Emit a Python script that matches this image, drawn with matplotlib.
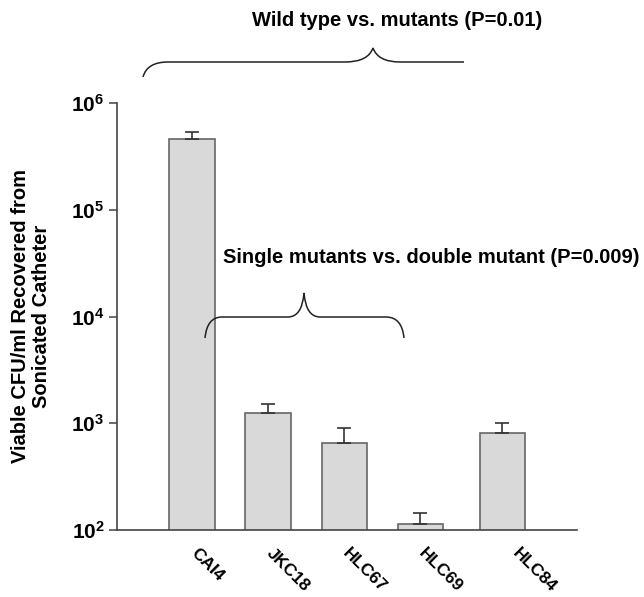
import numpy as np
import matplotlib
matplotlib.use("Agg")
import matplotlib.pyplot as plt
from matplotlib.path import Path
from matplotlib.patches import PathPatch

plt.rcParams['font.family'] = ['Liberation Sans', 'DejaVu Sans']
plt.rcParams['mathtext.fontset'] = 'custom'
plt.rcParams['mathtext.rm'] = 'Liberation Sans:bold'
plt.rcParams['mathtext.bf'] = 'Liberation Sans:bold'

# data
strains = ['CAI4', 'JKC18', 'HLC67', 'HLC69', 'HLC84']
cfu = [4.6e5, 1.26e3, 6.5e2, 1.13e2, 8.05e2]
cfu_err = [7.0e4, 240, 250, 31, 200]
decades = [2, 3, 4, 5, 6]

title_wt = 'Wild type vs. mutants (P=0.01)'
title_single = 'Single mutants vs. double mutant (P=0.009)'
ylab = 'Viable CFU/ml Recovered from\nSonicated Catheter'

W, H = 644, 597
fig = plt.figure(figsize=(W/100, H/100), dpi=100)
ax = fig.add_axes([117/W, 1-530/H, (577-117)/W, (530-103)/H])

x = np.arange(len(strains), dtype=float)
x[-1] += 0.08   # last bar sits a bit further right
lab_x = x + 0.08
lab_x[-1] += 0.15

ax.bar(x, cfu, width=0.6, color='#d9d9d9', edgecolor='#666666', linewidth=1.2,
       yerr=[np.zeros(len(cfu)), cfu_err], capsize=4.7,
       error_kw=dict(ecolor='#333333', elinewidth=1.2, capthick=1.2))

ax.set_yscale('log')
ax.set_ylim(10**decades[0], 10**decades[-1])
ax.set_xlim(-0.99, 5.06)
ax.set_yticks([10.0**d for d in decades])
ax.set_yticklabels(['$\\mathbf{10^{%d}}$' % d for d in decades], fontsize=15)
ax.minorticks_off()
ax.tick_params(axis='y', length=6, width=1.1, color='#444444', pad=3)

ax.set_xticks(lab_x)
ax.set_xticklabels(strains, rotation=-45, ha='left', va='top',
                   rotation_mode='anchor', fontsize=12.5, fontweight='bold')
ax.tick_params(axis='x', length=0, pad=11)

for s in ['top', 'right']:
    ax.spines[s].set_visible(False)
for s in ['left', 'bottom']:
    ax.spines[s].set_color('#444444')
    ax.spines[s].set_linewidth(1.2)

fig.text(31/W, 1-316/H, ylab, fontsize=14.5, fontweight='bold',
         rotation=90, ha='center', va='center', linespacing=1.15)

# curly braces, drawn in figure pixels
def px(p):
    return (p[0]/W, 1 - p[1]/H)

def brace(pts, codes):
    path = Path([px(p) for p in pts], codes)
    fig.add_artist(PathPatch(path, fill=False, edgecolor='#222222', lw=1.1,
                             transform=fig.transFigure))

M, L, Q = Path.MOVETO, Path.LINETO, Path.CURVE3
brace([(143, 77), (147, 62), (168, 62), (345, 62), (368, 62), (373, 48),
       (378, 62), (400, 62), (464, 62)],
      [M, Q, Q, L, Q, Q, Q, Q, L])
brace([(205, 338), (207, 317), (222, 317), (288, 317), (302, 317), (304, 293),
       (306, 317), (320, 317), (386, 317), (402, 317), (404, 338)],
      [M, Q, Q, L, Q, Q, Q, Q, L, Q, Q])

fig.text(252/W, 1-20/H, title_wt, fontsize=14.5, fontweight='bold',
         ha='left', va='center')
fig.text(223/W, 1-257/H, title_single, fontsize=14.5, fontweight='bold',
         ha='left', va='center')

fig.savefig('out.png', dpi=100)
